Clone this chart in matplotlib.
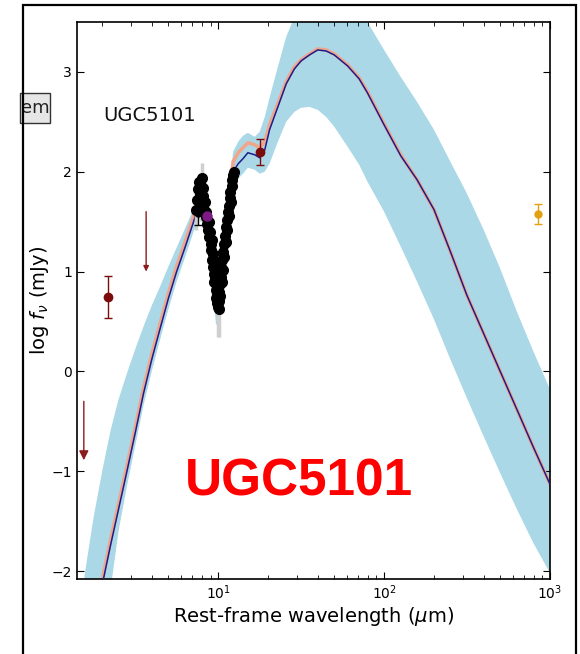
import matplotlib
matplotlib.use("Agg")
import matplotlib.pyplot as plt
from matplotlib.patches import Rectangle

# model SED (rest-frame wavelength in micron, log f_nu in mJy)
lam_model = [1.41, 1.58, 1.78, 2.0, 2.24, 2.51, 2.82, 3.16, 3.55, 3.98, 4.47, 5.01, 5.62, 6.31,
             7.08, 7.5, 7.94, 8.51, 9.12, 9.7, 10.0, 10.5, 11.2, 11.75, 12.3, 13.2, 14.1, 15.1,
             16.6, 17.8, 19.1, 20.4, 22.9, 25.7, 28.8, 31.6, 35.5, 39.8, 44.7, 50.1, 60.3, 70.8,
             79.4, 100, 126, 158, 200, 251, 316, 398, 501, 631, 794, 1000]
logf_blue = [-3.2, -2.85, -2.5, -2.14, -1.75, -1.38, -1.0, -0.62, -0.22, 0.12, 0.43, 0.73, 1.0, 1.24,
             1.49, 1.62, 1.70, 1.50, 1.12, 0.62, 0.62, 0.92, 1.30, 1.65, 2.00, 2.08, 2.13, 2.19,
             2.17, 2.14, 2.22, 2.42, 2.65, 2.88, 3.03, 3.11, 3.17, 3.22, 3.21, 3.17, 3.06, 2.93,
             2.79, 2.47, 2.16, 1.92, 1.62, 1.20, 0.76, 0.38, 0.0, -0.38, -0.76, -1.13]
logf_orange = [-3.15, -2.8, -2.45, -2.09, -1.70, -1.33, -0.95, -0.57, -0.17, 0.17, 0.48, 0.78, 1.05, 1.29,
               1.54, 1.67, 1.74, 1.54, 1.15, 0.66, 0.68, 0.98, 1.38, 1.74, 2.1, 2.19, 2.24, 2.29,
               2.27, 2.24, 2.3, 2.47, 2.68, 2.9, 3.05, 3.12, 3.18, 3.23, 3.22, 3.18, 3.07, 2.94,
               2.8, 2.48, 2.17, 1.92, 1.62, 1.2, 0.76, 0.38, 0.0, -0.38, -0.76, -1.13]
band_hi = [-2.6, -2.0, -1.45, -1.0, -0.6, -0.28, -0.02, 0.22, 0.45, 0.66, 0.85, 1.05, 1.24, 1.43,
           1.62, 1.70, 1.78, 1.60, 1.24, 0.74, 0.74, 1.04, 1.44, 1.84, 2.2, 2.3, 2.36, 2.39,
           2.35, 2.4, 2.55, 2.74, 3.05, 3.35, 3.55, 3.7, 3.8, 3.87, 3.88, 3.85, 3.75, 3.62,
           3.5, 3.22, 2.95, 2.7, 2.42, 2.1, 1.78, 1.42, 1.03, 0.6, 0.2, -0.18]
band_lo = [-4.2, -3.7, -3.2, -2.7, -2.2, -1.6, -1.15, -0.75, -0.34, 0.0, 0.32, 0.62, 0.9, 1.14,
           1.39, 1.5, 1.56, 1.36, 0.98, 0.47, 0.47, 0.78, 1.15, 1.5, 1.85, 1.93, 1.98, 2.04,
           2.02, 1.98, 2.0, 2.08, 2.3, 2.5, 2.6, 2.64, 2.65, 2.62, 2.55, 2.45, 2.25, 2.07,
           1.9, 1.6, 1.25, 0.9, 0.52, 0.12, -0.27, -0.65, -1.02, -1.38, -1.72, -2.02]

# IRS spectrum
spec_lam = [7.40, 7.50, 7.60, 7.70, 7.75, 7.85, 7.90, 8.00, 8.05, 8.15, 8.20, 8.30, 8.40, 8.50,
            8.55, 8.65, 8.75, 8.85, 8.95, 9.00, 9.10, 9.15, 9.20, 9.30, 9.35, 9.40, 9.45, 9.50,
            9.60, 9.65, 9.70, 9.80, 9.85, 9.90, 9.95, 10.0, 10.05, 10.1, 10.15, 10.25, 10.3,
            10.35, 10.45, 10.5, 10.6, 10.7, 10.75, 10.85, 10.9, 11.0, 11.1, 11.15, 11.25, 11.35,
            11.45, 11.55, 11.65, 11.75, 11.85, 11.95, 12.05, 12.2, 12.35, 12.45]
spec_logf = [1.62, 1.72, 1.83, 1.90, 1.78, 1.86, 1.66, 1.94, 1.76, 1.84, 1.62, 1.70, 1.55, 1.60,
             1.48, 1.42, 1.50, 1.35, 1.40, 1.28, 1.22, 1.32, 1.12, 1.18, 1.05, 0.98, 1.10, 0.90,
             0.95, 0.82, 0.74, 0.86, 0.68, 0.78, 0.64, 0.72, 0.62, 0.80, 0.70, 0.88, 0.76,
             0.95, 1.05, 0.90, 1.12, 1.02, 1.20, 1.28, 1.15, 1.36, 1.30, 1.45, 1.52, 1.42,
             1.60, 1.66, 1.56, 1.74, 1.80, 1.70, 1.86, 1.92, 1.97, 2.00]
spec_err = [0.2, 0.06, 0.05, 0.06, 0.05, 0.05, 0.15, 0.15, 0.05, 0.05, 0.06, 0.05, 0.05, 0.05,
            0.05, 0.05, 0.05, 0.05, 0.05, 0.05, 0.05, 0.05, 0.06, 0.05, 0.05, 0.06, 0.05, 0.06,
            0.05, 0.06, 0.08, 0.05, 0.1, 0.06, 0.3, 0.1, 0.28, 0.06, 0.1, 0.05, 0.06,
            0.05, 0.05, 0.06, 0.05, 0.05, 0.05, 0.05, 0.05, 0.05, 0.05, 0.05, 0.05, 0.05,
            0.05, 0.05, 0.05, 0.05, 0.05, 0.05, 0.05, 0.05, 0.05, 0.05]

# photometry
nir_lam, nir_logf, nir_err = [2.17], [0.745], [0.21]
mir_lam, mir_logf, mir_err = [17.9], [2.2], [0.13]
blk_lam, blk_logf, blk_err = [7.6], [1.59], [0.12]
pur_lam, pur_logf = [8.6], [1.56]
smm_lam, smm_logf, smm_err = [847], [1.58], [0.1]
# upper limits: (wavelength, start, tip)
lim_lam = [1.55, 3.68]
lim_top = [-0.30, 1.60]
lim_tip = [-0.89, 1.00]

fig = plt.figure(figsize=(5.8, 6.54), dpi=100)
ax = fig.add_axes([77 / 580, 1 - 579 / 654, 473 / 580, 557 / 654])

ax.fill_between(lam_model, band_lo, band_hi, color='#abd8e6', lw=0, zorder=1)
ax.plot(lam_model, logf_orange, color='#f0a68c', lw=2.6, zorder=2)
ax.plot(lam_model, logf_blue, color='#1c1c8c', lw=1.1, zorder=3)

ax.errorbar(spec_lam, spec_logf, yerr=spec_err, fmt='o', color='black', ms=7,
            ecolor='#cfcfcf', elinewidth=2.5, capsize=0, zorder=4)
ax.errorbar(blk_lam, blk_logf, yerr=blk_err, fmt='o', color='black', ms=5,
            capsize=3, elinewidth=1, zorder=5)
ax.plot(pur_lam, pur_logf, 'o', color='#7d1a85', ms=6.5, zorder=6)
ax.errorbar(nir_lam, nir_logf, yerr=nir_err, fmt='o', color='#7a0c0c', ms=6,
            capsize=3, elinewidth=1, zorder=5)
ax.errorbar(mir_lam, mir_logf, yerr=mir_err, fmt='o', color='#7a0c0c', ms=6,
            capsize=3, elinewidth=1, zorder=5)
ax.errorbar(smm_lam, smm_logf, yerr=smm_err, fmt='o', color='#e3a010', ms=5,
            capsize=3, elinewidth=1, zorder=5)

heads = [14, 8]
for lam, y0, y1, hs in zip(lim_lam, lim_top, lim_tip, heads):
    ax.annotate('', xy=(lam, y1), xytext=(lam, y0),
                arrowprops=dict(arrowstyle='-|>', color='#8a1c1c', lw=1,
                                mutation_scale=hs, shrinkA=0, shrinkB=0), zorder=5)

ax.set_xscale('log')
ax.set_xlim(1.41, 1000)
ax.set_ylim(-2.08, 3.5)
ax.set_yticks([-2, -1, 0, 1, 2, 3])
ax.tick_params(which='both', direction='in', top=True, right=True, labelsize=10)
ax.tick_params(which='major', length=5)
ax.tick_params(which='minor', length=3)
for s in ax.spines.values():
    s.set_linewidth(1.2)

ax.set_xlabel(r'Rest-frame wavelength ($\mu$m)', fontsize=14)
ax.set_ylabel(r'log $f_\nu$ (mJy)', fontsize=14)
ax.xaxis.set_label_coords(0.5, -0.046)
ax.yaxis.set_label_coords(-0.055, 0.5)

ax.text(0.055, 0.833, 'UGC5101', transform=ax.transAxes, fontsize=14,
        color='#111111', va='center', ha='left')

fig.text(185 / 580, 1 - 495 / 654, 'UGC5101', fontsize=37, fontweight='bold',
         family='Liberation Sans', color='#ff0000', ha='left', va='baseline')

# cropped slide bits
fig.add_artist(Rectangle((20 / 580, 1 - 123 / 654), 30 / 580, 30 / 654,
                         transform=fig.transFigure, facecolor='#e6e6e6',
                         edgecolor='#333333', lw=1))
fig.text(21 / 580, 1 - 108 / 654, 'em', fontsize=13, va='center', ha='left', color='#222222')
fig.add_artist(Rectangle((23 / 580, -0.05), 553 / 580, 1 - 5 / 654 + 0.05,
                         transform=fig.transFigure, fill=False, edgecolor='black',
                         lw=1.6, zorder=10))

fig.savefig('out.png', dpi=100)
